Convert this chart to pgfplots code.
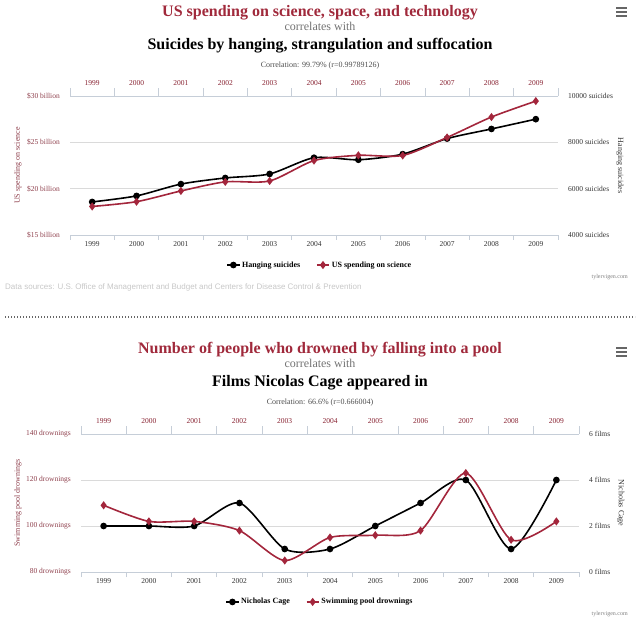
\documentclass[border=0pt]{standalone}
\usepackage{pgfplots}
\pgfplotsset{compat=1.18}
\usepackage{fontspec}
\setmainfont{Liberation Serif}
\newfontfamily\sansf{Liberation Sans}
\definecolor{tvred}{HTML}{A0293B}
\definecolor{tvser}{HTML}{A3263C}
\definecolor{tvlab}{HTML}{8E3F4C}
\definecolor{gridc}{HTML}{DADADA}
\definecolor{axc}{HTML}{C6CED8}
\definecolor{darklab}{HTML}{333333}
\newcommand{\fs}[1]{\fontsize{#1}{#1}\selectfont}

\pgfplotsset{
  tvcommon/.style={
    scale only axis, clip=false,
    xmin=-0.5, xmax=10.5,
    xtick={0,...,10},
    xticklabels={1999,2000,2001,2002,2003,2004,2005,2006,2007,2008,2009},
    scaled y ticks=false,
    major tick length=0pt,
    extra x ticks={-0.5,0.5,...,10.5},
    extra x tick labels={},
    y axis line style={draw=none},
    x axis line style={draw=axc, line width=0.8pt},
    tick style={draw=axc, line width=0.8pt},
    /pgf/number format/assume math mode=true,
    every axis plot/.append style={line width=1.6pt, smooth, tension=0.45},
  },
  tvA/.style={
    tvcommon,
    axis x line*=top, axis y line*=right,
    ymajorgrids, grid style={draw=gridc, line width=0.7pt},
    xticklabel style={font=\fs{7.5}, text=tvred!85!black, inner sep=0pt, yshift=10pt},
    yticklabel style={font=\fs{7.5}, text=darklab, inner sep=0pt, xshift=10pt},
    extra x tick style={major tick length=8pt, tick align=outside},
    ylabel style={font=\fs{8}, text=darklab, rotate=180, anchor=center},
  },
  tvB/.style={
    tvcommon,
    axis x line*=bottom, axis y line*=left,
    xticklabel style={font=\fs{7.5}, text=darklab, inner sep=0pt, yshift=-6.5pt},
    yticklabel style={font=\fs{7.5}, text=tvlab, inner sep=0pt, xshift=-10pt},
    extra x tick style={major tick length=5pt, tick align=outside},
    ylabel style={font=\fs{8}, text=tvlab, anchor=center},
    legend style={draw=none, fill=none, font=\bfseries\fs{8}, legend columns=2,
      /tikz/every even column/.append style={column sep=14pt}, inner sep=0pt},
    legend image code/.code={\draw[mark repeat=2,mark phase=2] plot coordinates {(0pt,0pt) (6pt,0pt) (12pt,0pt)};},
  },
  blk/.style={black, mark=*, mark size=2.5pt, mark options={solid}},
  rd/.style={tvser, mark=diamond*, mark size=2.8pt, mark options={solid}},
}

\begin{document}
\begin{tikzpicture}
\path[use as bounding box] (0pt,0pt) rectangle (640pt,619pt);

% ---------- top chart titles ----------
\node[anchor=base, font=\bfseries\fs{16}, text=tvred, inner sep=0pt] at (320pt,602pt) {US spending on science, space, and technology};
\node[anchor=base, font=\fs{12}, text=black!55, inner sep=0pt] at (320pt,588pt) {correlates with};
\node[anchor=base, font=\bfseries\fs{16}, text=black, inner sep=0pt] at (320pt,569pt) {Suicides by hanging, strangulation and suffocation};
\node[anchor=base, font=\fs{8}, text=black!70, inner sep=0pt] at (320pt,551pt) {Correlation: 99.79\% (r=0.99789126)};
\foreach \yy in {603,607,611} {\draw[line width=1.6pt, black!60] (616pt,\yy pt) -- (627pt,\yy pt);}

% right axis (black, suicides)
\begin{axis}[tvA, at={(70pt,384pt)}, anchor=south west, width=488pt, height=139pt,
  ymin=4000, ymax=10000, ytick={4000,6000,8000,10000},
  yticklabels={4000 suicides,6000 suicides,8000 suicides,10000 suicides},
  ylabel={Hanging suicides}, ylabel style={at={(axis description cs:1.127,0.5)}}]
\addplot[blk] coordinates {(0,5427) (1,5688) (2,6198) (3,6462) (4,6635) (5,7336) (6,7248) (7,7491) (8,8161) (9,8578) (10,9000)};
\end{axis}
% left axis (red, spending)
\begin{axis}[tvB, at={(70pt,384pt)}, anchor=south west, width=488pt, height=139pt,
  ymin=15, ymax=30, ytick={15,20,25,30},
  yticklabels={\$15 billion,\$20 billion,\$25 billion,\$30 billion},
  ylabel={US spending on science}, ylabel style={at={(axis description cs:-0.1066,0.5)}},
  legend style={at={(axis description cs:0.512,-0.216)}, anchor=center}]
\addlegendimage{blk}
\addlegendentry{Hanging suicides}
\addplot[rd] coordinates {(0,18.079) (1,18.594) (2,19.753) (3,20.734) (4,20.831) (5,23.029) (6,23.597) (7,23.584) (8,25.525) (9,27.731) (10,29.449)};
\addlegendentry{US spending on science}
\end{axis}

\node[anchor=base east, font=\fs{6}, text=black!50, inner sep=0pt] at (628pt,340pt) {tylervigen.com};
\node[anchor=base west, font=\sansf\fs{8}, text=black!22, inner sep=0pt] at (5pt,329pt) {Data sources: U.S. Office of Management and Budget and Centers for Disease Control \& Prevention};
\draw[black!60, line width=1.3pt, dash pattern=on 1pt off 2pt] (5pt,302pt) -- (635pt,302pt);

% ---------- bottom chart titles ----------
\node[anchor=base, font=\bfseries\fs{16}, text=tvred, inner sep=0pt] at (320pt,265pt) {Number of people who drowned by falling into a pool};
\node[anchor=base, font=\fs{12}, text=black!55, inner sep=0pt] at (320pt,251pt) {correlates with};
\node[anchor=base, font=\bfseries\fs{16}, text=black, inner sep=0pt] at (320pt,232pt) {Films Nicolas Cage appeared in};
\node[anchor=base, font=\fs{8}, text=black!70, inner sep=0pt] at (320pt,214pt) {Correlation: 66.6\% (r=0.666004)};
\foreach \yy in {263,267,271} {\draw[line width=1.6pt, black!60] (616pt,\yy pt) -- (627pt,\yy pt);}

\begin{axis}[tvA, at={(81pt,47pt)}, anchor=south west, width=498pt, height=138pt,
  ymin=0, ymax=6, ytick={0,2,4,6},
  yticklabels={0 films,2 films,4 films,6 films},
  ylabel={Nicholas Cage}, ylabel style={at={(axis description cs:1.084,0.5)}}]
\addplot[blk] coordinates {(0,2) (1,2) (2,2) (3,3) (4,1) (5,1) (6,2) (7,3) (8,4) (9,1) (10,4)};
\end{axis}
\begin{axis}[tvB, at={(81pt,47pt)}, anchor=south west, width=498pt, height=138pt,
  ymin=80, ymax=140, ytick={80,100,120,140},
  yticklabels={80 drownings,100 drownings,120 drownings,140 drownings},
  ylabel={Swimming pool drownings}, ylabel style={at={(axis description cs:-0.1265,0.5)}},
  legend style={at={(axis description cs:0.48,-0.217)}, anchor=center}]
\addlegendimage{blk}
\addlegendentry{Nicholas Cage}
\addplot[rd] coordinates {(0,109) (1,102) (2,102) (3,98) (4,85) (5,95) (6,96) (7,98) (8,123) (9,94) (10,102)};
\addlegendentry{Swimming pool drownings}
\end{axis}

\node[anchor=base east, font=\fs{6}, text=black!50, inner sep=0pt] at (628pt,4pt) {tylervigen.com};
\end{tikzpicture}
\end{document}
